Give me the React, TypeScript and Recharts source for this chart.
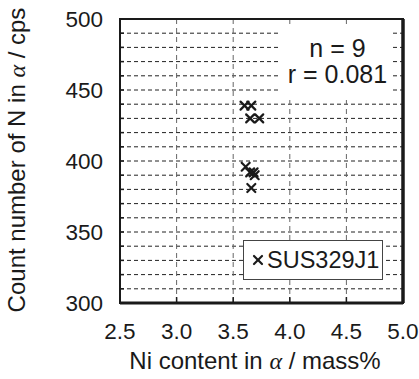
import React from "react";
import {
  ScatterChart,
  Scatter,
  XAxis,
  YAxis,
  CartesianGrid,
  ReferenceArea,
  ReferenceLine,
  Legend,
} from "recharts";

const seriesName = "SUS329J1";
const niContent = [3.6, 3.66, 3.65, 3.73, 3.61, 3.65, 3.68, 3.69, 3.66];
const nCount = [439, 439, 430, 430, 396, 392, 392, 390, 381];
const xTicks = [2.5, 3.0, 3.5, 4.0, 4.5, 5.0];
const yTicks = [300, 310, 320, 330, 340, 350, 360, 370, 380, 390, 400, 410, 420, 430, 440, 450, 460, 470, 480, 490, 500];
const statsLines = ["n = 9", "r = 0.081"];

const data = niContent.map((x, i) => ({ x, y: nCount[i] }));

const FONT = "'Liberation Sans', Arial, sans-serif";
const FS = 22.5;
const LABEL_FS = 24;
const INK = "#1a1a1a";

const XMarker = (props: any) => {
  const { cx, cy } = props;
  const h = 4;
  return (
    <g stroke={INK} strokeWidth={2.2} strokeLinecap="round">
      <line x1={cx - h} y1={cy - h} x2={cx + h} y2={cy + h} />
      <line x1={cx - h} y1={cy + h} x2={cx + h} y2={cy - h} />
    </g>
  );
};

const YTick = (props: any) => {
  const { x, y, payload } = props;
  const v = payload.value;
  return (
    <g>
      <line x1={x + 17} x2={x + 21} y1={y} y2={y} stroke={INK} strokeWidth={1.5} />
      {v % 50 === 0 ? (
        <text x={x} y={y} dy="0.355em" textAnchor="end" fontFamily={FONT} fontSize={FS} fill={INK}>
          {v}
        </text>
      ) : null}
    </g>
  );
};

const XTick = (props: any) => {
  const { x, y, payload } = props;
  return (
    <g>
      <line x1={x} x2={x} y1={y - 20} y2={y - 26} stroke={INK} strokeWidth={1.5} />
      <text x={x} y={y} dy="0.71em" textAnchor="middle" fontFamily={FONT} fontSize={FS} fill={INK}>
        {payload.value.toFixed(1)}
      </text>
    </g>
  );
};

const XLabel = () => {
  return (
    <text x={255} y={369} textAnchor="middle" fontFamily={FONT} fontSize={LABEL_FS} fill={INK}>
      Ni content in{" "}
      <tspan fontFamily="'Liberation Serif', serif" fontStyle="italic">α</tspan> / mass%
    </text>
  );
};

const YLabel = () => {
  return (
    <text
      x={25}
      y={160}
      transform="rotate(-90 25 160)"
      textAnchor="middle"
      fontFamily={FONT}
      fontSize={LABEL_FS}
      fill={INK}
    >
      Count number of N in{" "}
      <tspan fontFamily="'Liberation Serif', serif" fontStyle="italic">α</tspan> / cps
    </text>
  );
};

const LegendContent = (props: any) => {
  const name = props.payload && props.payload[0] ? props.payload[0].value : seriesName;
  return (
    <div
      style={{
        width: 140,
        height: 40,
        boxSizing: "border-box",
        border: "1px solid #444",
        background: "#fff",
        display: "flex",
        alignItems: "center",
        fontFamily: FONT,
        fontSize: 23.5,
        color: INK,
      }}
    >
      <svg width={23} height={20} style={{ flex: "none" }}>
        <g stroke={INK} strokeWidth={2.2} strokeLinecap="round">
          <line x1={10} y1={6} x2={18} y2={14} />
          <line x1={10} y1={14} x2={18} y2={6} />
        </g>
      </svg>
      <span>{name}</span>
    </div>
  );
};

export default function App() {
  return (
    <div style={{ position: "absolute", left: 0, top: 0, width: 419, height: 379, background: "#fff" }}>
      <ScatterChart width={419} height={379} margin={{ top: 19, right: 16, bottom: 0, left: 0 }}>
        <CartesianGrid
          horizontal={true}
          vertical={false}
          stroke="#222"
          strokeDasharray="4 3"
          strokeWidth={1}
        />
        <CartesianGrid
          horizontal={false}
          vertical={true}
          stroke="#666"
          strokeDasharray="5 4"
          strokeWidth={1}
        />
        <XAxis
          type="number"
          dataKey="x"
          domain={[2.5, 5.0]}
          ticks={xTicks}
          interval={0}
          height={76}
          tickSize={0}
          tickMargin={20}
          axisLine={false}
          tickLine={false}
          tick={<XTick />}
          label={<XLabel />}
        />
        <YAxis
          type="number"
          dataKey="y"
          domain={[300, 500]}
          ticks={yTicks}
          interval={0}
          width={120}
          tickSize={0}
          tickMargin={17}
          axisLine={false}
          tickLine={false}
          tick={<YTick />}
          label={<YLabel />}
        />
        <ReferenceArea x1={2.5} x2={5.0} y1={300} y2={500} fill="none" stroke={INK} strokeWidth={2} ifOverflow="visible" />
        <ReferenceLine x={5.0} stroke={INK} strokeWidth={3.5} ifOverflow="visible" />
        <ReferenceLine y={300} stroke={INK} strokeWidth={3} ifOverflow="visible" />
        <Scatter name={seriesName} data={data} shape={<XMarker />} isAnimationActive={false} />
        <Legend
          layout="horizontal"
          verticalAlign="middle"
          align="center"
          wrapperStyle={{ position: "absolute", left: 243, top: 240, width: 140, height: 40 }}
          content={<LegendContent />}
        />
      </ScatterChart>
      <div
        style={{
          position: "absolute",
          left: 281,
          top: 27,
          width: 111,
          height: 71,
          background: "#fff",
          fontFamily: FONT,
          fontSize: 25,
          color: INK,
        }}
      >
        {statsLines.map((s, i) => (
          <div
            key={s}
            style={{
              position: "absolute",
              left: 0,
              width: 113,
              textAlign: "center",
              top: 9 + i * 26,
              lineHeight: "25px",
              whiteSpace: "nowrap",
            }}
          >
            {s}
          </div>
        ))}
      </div>
    </div>
  );
}
